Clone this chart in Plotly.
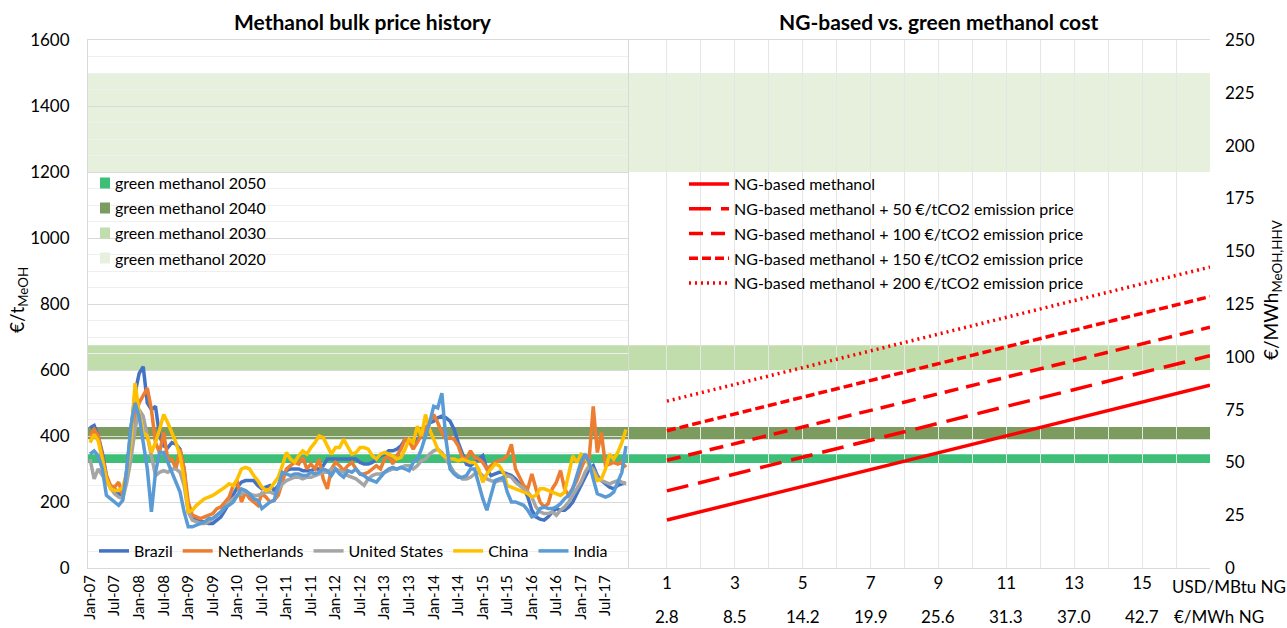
import plotly.graph_objects as go

# ---------------- data ----------------
years = list(range(2007, 2018))
month_labels = [f"{m}-{str(y)[2:]}" for y in years for m in ["Jan", "Feb", "Mar", "Apr", "May", "Jun", "Jul", "Aug", "Sep", "Oct", "Nov", "Dec"]]
tick_labels = [lab for lab in month_labels if lab.startswith(("Jan", "Jul"))]

brazil = [
    425, 432, 400, 350, 280, 245, 240, 225, 215, 300, 420, 530,
    590, 610, 500, 480, 490, 400, 370, 365, 380, 375, 360, 300,
    170, 150, 145, 140, 140, 135, 135, 145, 155, 175, 200, 220,
    245, 260, 265, 265, 265, 250, 240, 245, 250, 235, 250, 275,
    295, 300, 300, 300, 295, 295, 295, 300, 300, 310, 330, 330,
    330, 330, 330, 330, 330, 330, 320, 315, 315, 320, 330, 340,
    345, 355, 355, 360, 370, 390, 385, 380, 390, 400, 420, 440,
    445, 455, 460, 455, 445, 420, 380, 345, 315, 310, 320, 330,
    340, 300, 280, 285, 290, 290, 285, 280, 270, 255, 240, 215,
    175, 155, 148, 145, 155, 170, 180, 175, 175, 185, 200, 225,
    250, 275, 300, 310, 280, 265, 255, 245, 240, 250, 255, 258,
]
netherlands = [
    400, 420, 400, 340, 280, 250, 245, 260, 220, 280, 370, 460,
    500, 520, 545, 480, 380, 350, 410, 330, 330, 300, 360, 300,
    200, 160, 155, 150, 155, 160, 165, 180, 185, 200, 215, 250,
    260, 200, 230, 210, 200, 190, 225, 215, 200, 205, 220, 260,
    300, 310, 320, 315, 335, 300, 315, 300, 330, 270, 240, 300,
    320, 310, 295, 310, 320, 300, 285, 285, 290, 300, 310, 300,
    330, 340, 315, 340, 360, 390, 385, 360, 380, 400, 420, 445,
    465, 440, 410, 390, 395, 390, 370, 335, 330, 355, 335, 330,
    320, 300, 310, 320, 325, 330, 340, 375, 300, 275, 250, 240,
    285, 240, 200, 185, 195, 240, 260, 295, 240, 220, 245, 265,
    300, 330, 330, 490, 350, 410, 310, 315, 320, 315, 320, 305,
]
united_states = [
    330, 270, 300, 280, 260, 240, 225, 215, 210, 260, 330, 420,
    480, 460, 400, 330, 280, 290, 295, 290, 300, 300, 290, 250,
    170, 145, 140, 135, 135, 140, 150, 160, 170, 185, 200, 210,
    220, 225, 230, 225, 220, 220, 225, 230, 230, 225, 235, 255,
    265, 270, 275, 275, 270, 275, 275, 280, 285, 290, 290, 300,
    300, 295, 290, 280, 275, 270, 260, 250, 270, 280, 285, 285,
    290, 295, 300, 300, 305, 310, 310, 300, 310, 325, 330, 345,
    355, 360, 350, 330, 305, 290, 280, 270, 270, 275, 285, 290,
    280, 270, 265, 260, 265, 265, 280, 275, 260, 250, 240, 230,
    215, 185, 170, 165, 165, 170, 160, 175, 185, 200, 220, 240,
    260, 290, 310, 300, 275, 265, 260, 255, 260, 265, 260, 255,
]
china = [
    380, 405, 385, 330, 270, 240, 235, 235, 245, 290, 380, 560,
    470, 410, 400, 350, 380, 420, 465, 440, 410, 380, 340, 270,
    170, 175, 190, 200, 210, 215, 220, 228, 235, 245, 255, 250,
    270, 300, 305, 300, 280, 265, 245, 235, 240, 260, 275, 310,
    350, 330, 320, 340, 355, 345, 365, 380, 400, 395, 370, 345,
    365, 365, 390, 370, 345, 350, 365, 365, 360, 340, 330, 345,
    350, 345, 340, 330, 335, 360, 390, 380, 430, 400, 465, 420,
    390, 360, 345, 335, 330, 330, 325, 330, 325, 320, 320, 300,
    260, 285, 300, 315, 310, 290, 250, 245, 240, 235, 230, 225,
    215, 220, 240, 240, 235, 230, 225, 220, 230, 280, 340, 320,
    345, 340, 310, 290, 265, 270, 300, 345, 330, 350, 380, 420,
]
india = [
    345, 355, 340, 300, 220, 210, 200, 190, 205, 300, 430, 500,
    460, 380, 300, 170, 290, 350, 350, 320, 290, 260, 230, 170,
    125, 125, 130, 135, 140, 150, 150, 160, 170, 185, 190, 200,
    220, 240, 235, 225, 210, 205, 180, 190, 200, 205, 250, 290,
    285, 280, 285, 285, 280, 280, 290, 285, 290, 300, 295, 280,
    300, 285, 275, 295, 290, 300, 285, 280, 270, 265, 260, 275,
    290, 300, 305, 300, 305, 300, 295, 320, 330, 360, 400, 440,
    490, 485, 530, 390, 300, 285, 275, 275, 280, 300, 300, 250,
    210, 175, 220, 265, 270, 275, 230, 200, 200, 195, 190, 175,
    155, 160, 180, 185, 180, 180, 185, 195, 210, 220, 240, 280,
    320, 345, 320, 270, 225, 220, 215, 220, 230, 260, 290, 370,
]

country_names = ["Brazil", "Netherlands", "United States", "China", "India"]
country_series = [brazil, netherlands, united_states, china, india]
country_colors = ["#4472C4", "#ED7D31", "#A5A5A5", "#FFC000", "#5B9BD5"]

# green methanol cost ranges, EUR/t MeOH
green_labels = ["green methanol 2050", "green methanol 2040", "green methanol 2030", "green methanol 2020"]
green_low = [318, 390, 600, 1200]
green_high = [345, 427, 675, 1500]
green_colors = ["#3DBF77", "#7B9B5F", "#C1DDAC", "#E6F0DD"]

# NG-based methanol cost vs NG price
ng_usd_mbtu = [1, 17]
ng_tick_usd = [1, 3, 5, 7, 9, 11, 13, 15]
ng_tick_eur_mwh = ["2.8", "8.5", "14.2", "19.9", "25.6", "31.3", "37.0", "42.7"]
ng_names = [
    "NG-based methanol",
    "NG-based methanol + 50 €/tCO2 emission price",
    "NG-based methanol + 100 €/tCO2 emission price",
    "NG-based methanol + 150 €/tCO2 emission price",
    "NG-based methanol + 200 €/tCO2 emission price",
]
ng_cost = [
    [22.7, 86.5],
    [36.5, 100.5],
    [51.0, 114.0],
    [65.0, 128.5],
    [79.0, 142.5],
]
ng_dash = ["solid", "22px,10px", "14px,8px", "9px,4px", "2px,4px"]

# ---------------- figure ----------------
W, H = 1287, 628
L, R, T, B = 88, 1210, 40, 568
FONT = "Lato"


def px(xp):
    return (xp - L) / (R - L)


def py(yp):
    return 1 - (yp - T) / (B - T)


split = px(628)
fig = go.Figure()

for name, vals, col in zip(country_names, country_series, country_colors):
    fig.add_trace(go.Scatter(
        x=list(range(len(vals))), y=vals, name=name, mode="lines",
        line=dict(color=col, width=3.5), xaxis="x", yaxis="y", legend="legend",
    ))

for i, (name, vals, dash) in enumerate(zip(ng_names, ng_cost, ng_dash)):
    fig.add_trace(go.Scatter(
        x=ng_usd_mbtu, y=vals, name=name, mode="lines",
        line=dict(color="#FF0000", width=3.5, dash=dash),
        xaxis="x2", yaxis="y3", legend="legend2", legendgroup=f"g{i}",
    ))

shapes = []
for lo, hi, col in zip(green_low, green_high, green_colors):
    shapes.append(dict(type="rect", xref="paper", yref="y", x0=0, x1=1, y0=lo, y1=hi,
                       fillcolor=col, line=dict(width=0), layer="below"))

annotations = []
for i, (lab, col) in enumerate(zip(green_labels, green_colors)):
    yc = 183 + 25 * i
    shapes.append(dict(type="rect", xref="paper", yref="paper",
                       x0=px(100), x1=px(110), y0=py(yc + 5.5), y1=py(yc - 5.5),
                       fillcolor=col, line=dict(width=0)))
    annotations.append(dict(text=lab, xref="paper", yref="paper", x=px(113), y=py(yc),
                            xanchor="left", yanchor="middle", showarrow=False,
                            font=dict(size=16, color="#000")))

for xv, lab in zip(ng_tick_usd, ng_tick_eur_mwh):
    annotations.append(dict(text=lab, xref="x2", yref="paper", x=xv, y=py(616),
                            xanchor="center", yanchor="middle", showarrow=False,
                            font=dict(size=17, color="#000")))
annotations += [
    dict(text="USD/MBtu NG", xref="paper", yref="paper", x=px(1170), y=py(586),
         xanchor="left", yanchor="middle", showarrow=False, font=dict(size=17, color="#000")),
    dict(text="€/MWh NG", xref="paper", yref="paper", x=px(1172), y=py(616),
         xanchor="left", yanchor="middle", showarrow=False, font=dict(size=17, color="#000")),
    dict(text="<b>Methanol bulk price history</b>", xref="paper", yref="paper", x=px(363), y=py(22),
         xanchor="center", yanchor="middle", showarrow=False, font=dict(size=21, color="#000")),
    dict(text="<b>NG-based vs. green methanol cost</b>", xref="paper", yref="paper", x=px(938), y=py(22),
         xanchor="center", yanchor="middle", showarrow=False, font=dict(size=21, color="#000")),
    dict(text="€/t<sub>MeOH</sub>", xref="paper", yref="paper", x=px(18), y=py(300), textangle=-90,
         xanchor="center", yanchor="middle", showarrow=False, font=dict(size=19, color="#000")),
    dict(text="€/MWh<sub>MeOH,HHV</sub>", xref="paper", yref="paper", x=px(1272), y=py(290), textangle=-90,
         xanchor="center", yanchor="middle", showarrow=False, font=dict(size=19, color="#000")),
]

grid_major = "#D9D9D9"
grid_minor = "#EFEFEF"
axis_line = "#D9D9D9"

fig.update_layout(
    width=W, height=H,
    margin=dict(l=L, r=W - R, t=T, b=H - B, autoexpand=False),
    paper_bgcolor="white", plot_bgcolor="rgba(0,0,0,0)",
    font=dict(family=FONT, size=15, color="#000"),
    shapes=shapes, annotations=annotations,
    xaxis=dict(domain=[0, split], range=[-0.5, len(brazil) - 0.5], automargin=False,
               tickmode="array", tickvals=[i for i, m in enumerate(month_labels) if m in tick_labels],
               ticktext=tick_labels, tickangle=-90, tickfont=dict(size=15),
               showgrid=False, zeroline=False, showline=True, linecolor=axis_line, mirror=True,
               ticks="", anchor="y"),
    yaxis=dict(domain=[0, 1], range=[0, 1600], tickmode="linear", tick0=0, dtick=200, automargin=False,
               tickfont=dict(size=17), ticklabelstandoff=14,
               showgrid=True, gridcolor=grid_major, gridwidth=1,
               minor=dict(dtick=50, tick0=0, showgrid=True, gridcolor=grid_minor, gridwidth=1),
               zeroline=False, showline=True, linecolor=axis_line, mirror=True, anchor="x"),
    xaxis2=dict(domain=[split, 1], range=[1 - 39 / 34, 17], automargin=False,
                tickmode="array", tickvals=list(range(1, 18)),
                ticktext=[str(v) if v in ng_tick_usd else "" for v in range(1, 18)],
                tickfont=dict(size=17), ticks="",
                showgrid=True, gridcolor="#E6E6E6", gridwidth=1,
                zeroline=False, showline=True, linecolor=axis_line, mirror=True, anchor="y2"),
    yaxis2=dict(domain=[0, 1], range=[0, 1600], tickmode="linear", tick0=0, dtick=200, automargin=False,
                showticklabels=False, showgrid=True, gridcolor=grid_major, gridwidth=1,
                minor=dict(dtick=50, tick0=0, showgrid=True, gridcolor=grid_minor, gridwidth=1),
                zeroline=False, showline=False, anchor="x2"),
    yaxis3=dict(range=[0, 250], tickmode="linear", tick0=0, dtick=25, overlaying="y2", side="right",
                anchor="x2", tickfont=dict(size=17), ticklabelstandoff=14, automargin=False,
                showgrid=False, zeroline=False, showline=False),
    legend=dict(orientation="h", x=px(94), y=py(551), xanchor="left", yanchor="middle",
                bgcolor="rgba(0,0,0,0)", font=dict(size=16), itemwidth=30, tracegroupgap=0),
    legend2=dict(orientation="v", x=px(684), y=py(167), xanchor="left", yanchor="top",
                 bgcolor="rgba(0,0,0,0)", font=dict(size=16), tracegroupgap=1, itemwidth=40),
)

fig.write_html("out.html", config={"displayModeBar": False},
               post_script="document.body.style.margin='0';")
